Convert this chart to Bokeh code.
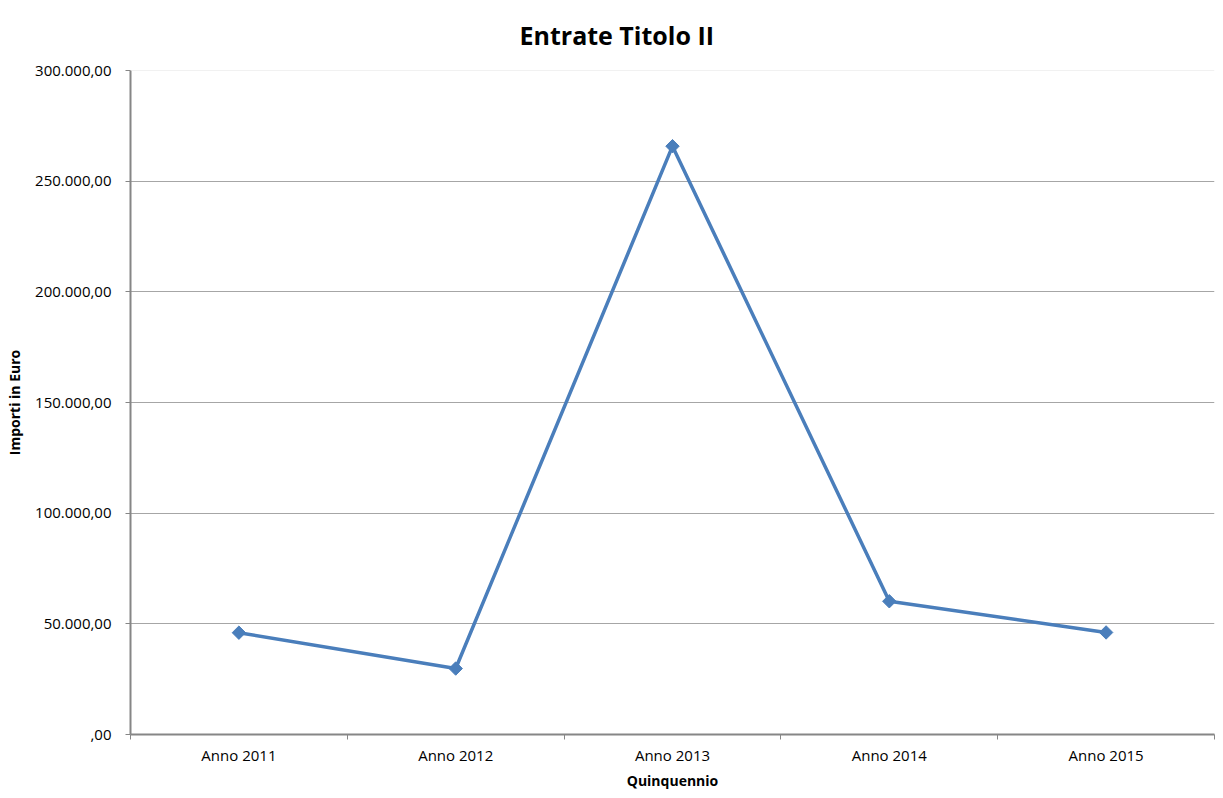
import math
from bokeh.plotting import figure
from bokeh.models import (Range1d, FixedTicker, CustomJSTickFormatter, Span,
                          ColumnDataSource, Title)
from bokeh.embed import file_html
from bokeh.resources import INLINE

# ---- data ----
categories = ["Anno 2011", "Anno 2012", "Anno 2013", "Anno 2014", "Anno 2015"]
values = [46000, 29800, 265800, 60200, 46100]
y_ticks = [0, 50000, 100000, 150000, 200000, 250000, 300000]

FONT = "Open Sans"
AXIS_COL = "#868686"
GRID_COL = "#a6a6a6"
LINE_COL = "#4a7ebb"

src = ColumnDataSource(dict(x=[i + 0.5 for i in range(len(categories))],
                            y=values, cat=categories))

p = figure(width=1215, height=790, output_backend="svg", toolbar_location=None,
           x_range=Range1d(0, len(categories)), y_range=Range1d(0, 300000),
           min_border_left=130, min_border_right=1, min_border_top=69,
           min_border_bottom=54)

p.title = Title(text="Entrate Titolo II", align="left", offset=389,
                vertical_align="top",
                text_font=FONT, text_font_size="25px", text_font_style="bold",
                text_color="black", standoff=34)

p.outline_line_color = None
p.background_fill_color = "white"
p.border_fill_color = "white"

# grid
p.xgrid.visible = False
p.ygrid.ticker = FixedTicker(ticks=y_ticks[1:-1])
p.ygrid.grid_line_color = GRID_COL
p.ygrid.grid_line_width = 1.2
p.add_layout(Span(location=y_ticks[-1], dimension="width",
                  line_color="#e3e3e3", line_width=1))

# x axis
xa = p.xaxis[0]
xa.ticker = FixedTicker(ticks=[i + 0.5 for i in range(len(categories))],
                        minor_ticks=list(range(len(categories) + 1)))
xa.formatter = CustomJSTickFormatter(args=dict(labels=categories),
                                     code="const i = Math.floor(tick); return (i >= 0 && i < labels.length) ? labels[i] : '';")
xa.major_tick_out = 0
xa.major_tick_in = 0
xa.minor_tick_out = 5
xa.minor_tick_in = 0
xa.minor_tick_line_color = AXIS_COL
xa.axis_line_color = AXIS_COL
xa.axis_line_width = 2
xa.major_label_text_font = FONT
xa.major_label_text_font_size = "15px"
xa.major_label_text_color = "black"
xa.major_label_standoff = 5

# x axis title placed in the below panel
p.add_layout(Title(text="Quinquennio", align="center", text_font=FONT,
                   text_font_size="14px", text_font_style="bold",
                   text_color="black", standoff=2), "below")

# y axis
ya = p.yaxis[0]
ya.ticker = FixedTicker(ticks=y_ticks)
ya.formatter = CustomJSTickFormatter(code="""
if (tick == 0) return ",00";
const s = Math.round(tick).toString().replace(/\\B(?=(\\d{3})+(?!\\d))/g, ".");
return s + ",00";
""")
ya.major_tick_out = 5
ya.major_tick_in = 0
ya.minor_tick_out = 0
ya.minor_tick_in = 0
ya.major_tick_line_color = AXIS_COL
ya.axis_line_color = AXIS_COL
ya.axis_line_width = 2
ya.major_label_text_font = FONT
ya.major_label_text_font_size = "15px"
ya.major_label_text_color = "black"
ya.major_label_standoff = 14
ya.axis_label = "Importi in Euro"
ya.axis_label_text_font = FONT
ya.axis_label_text_font_size = "14px"
ya.axis_label_text_font_style = "bold"
ya.axis_label_text_color = "black"
ya.axis_label_standoff = 8

# series
p.line("x", "y", source=src, line_color=LINE_COL, line_width=3.5)
p.scatter("x", "y", source=src, marker="square", size=9.5, angle=math.pi / 4,
          fill_color=LINE_COL, line_color=LINE_COL)

open("out.html", "w").write(file_html(p, INLINE))
